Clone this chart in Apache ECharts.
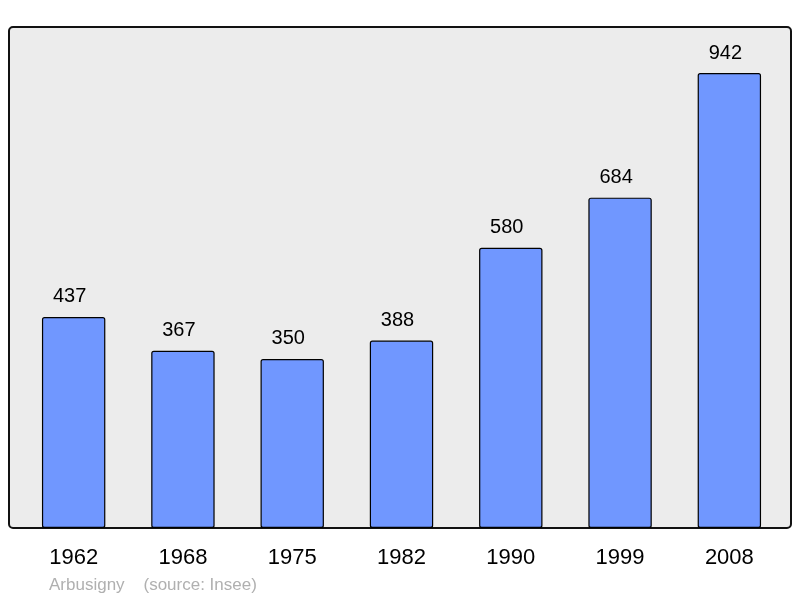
<!DOCTYPE html>
<html><head><meta charset="utf-8">
<script src="https://cdn.jsdelivr.net/npm/echarts@6/dist/echarts.min.js"></script>
<style>html,body{margin:0;padding:0;background:#fff}#c{width:800px;height:598px}</style>
</head><body><div id="c"></div>
<script>
var categories = ['1962','1968','1975','1982','1990','1999','2008'];
var population = [437,367,350,388,580,684,942];
var footerText = 'Arbusigny    (source: Insee)';

var chart = echarts.init(document.getElementById('c'), null, {renderer:'canvas'});
chart.setOption({
  animation:false,
  backgroundColor:'#ffffff',
  graphic:[
    {type:'rect', shape:{x:9,y:27,width:782,height:501,r:4}, style:{fill:'#ececec',stroke:'#111',lineWidth:2}, z:-10},
    {type:'text', left:49, top:577, style:{text:footerText, fill:'#b0b0b0', font:'17px "Liberation Sans", Arial, sans-serif'}}
  ],
  grid:{left:19, right:16, top:45, bottom:70},
  xAxis:{type:'category', data:categories,
    axisLine:{show:false}, axisTick:{show:false},
    axisLabel:{color:'#000', fontSize:22, margin:19, fontFamily:'"Liberation Sans", Arial, sans-serif'}},
  yAxis:{type:'value', min:0, max:1000, show:false, splitLine:{show:false}},
  series:[{type:'bar', data:population, barCategoryGap:'42%',
    itemStyle:{color:'#7097ff', borderColor:'#000', borderWidth:1.2, borderRadius:2},
    label:{show:true, position:'top', distance:10, offset:[-4,0], color:'#000', fontSize:20, fontFamily:'"Liberation Sans", Arial, sans-serif'}
  }]
});
</script></body></html>
